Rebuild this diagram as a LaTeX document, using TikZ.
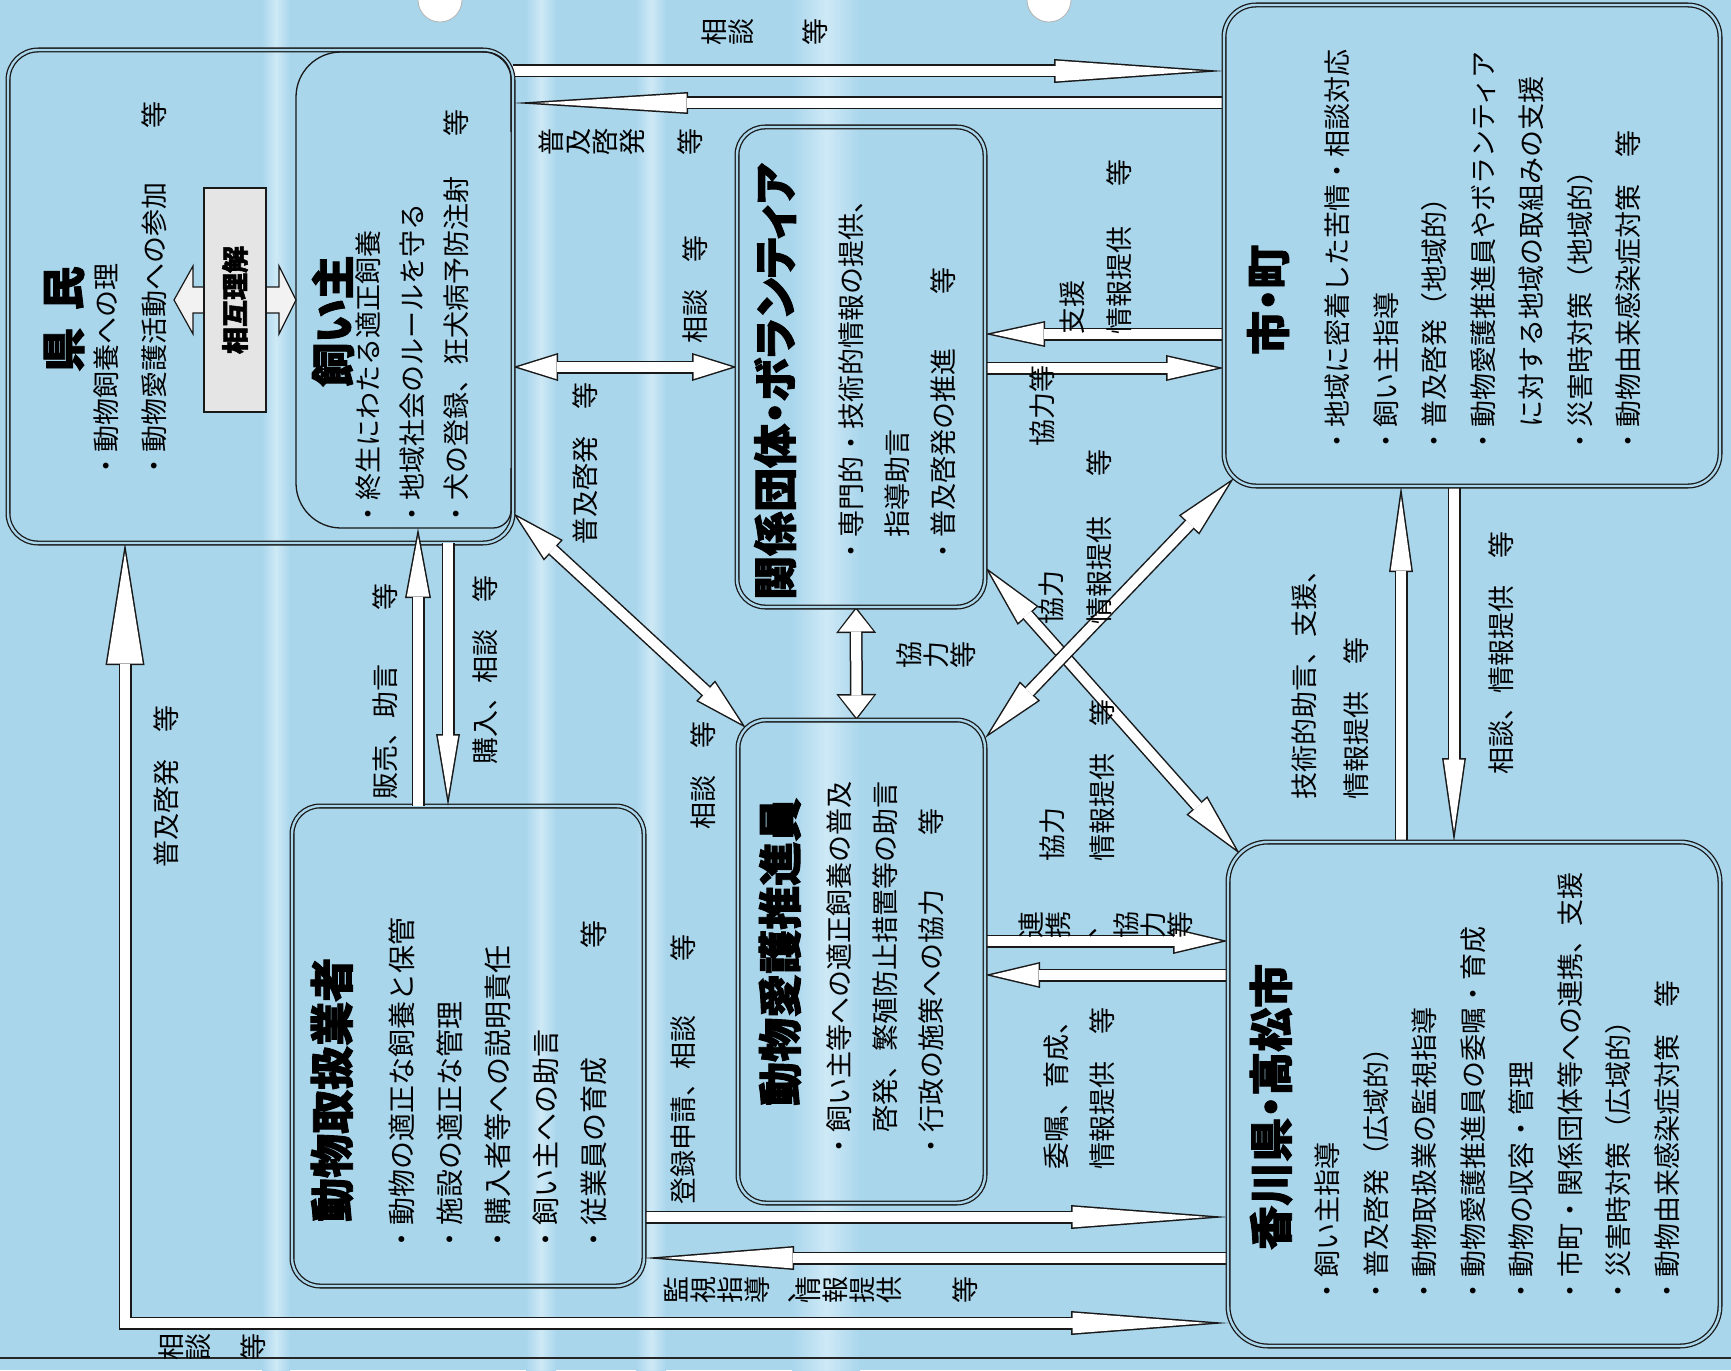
\documentclass[tikz,border=0pt]{standalone}
\usepackage{fontspec}
\setmainfont{Noto Sans CJK JP}
\newfontfamily\jp{Noto Sans CJK JP}
\newfontfamily\jpt{Noto Sans CJK JP}[RawFeature=+palt, BoldFeatures={FakeBold=2}]
\usetikzlibrary{arrows.meta}
\definecolor{bgc}{RGB}{170,214,236}
\definecolor{bgl}{RGB}{206,233,246}
\pgfdeclarelayer{bg}\pgfdeclarelayer{back}
\pgfsetlayers{bg,back,main}
% block arrow: #1 start tip length (0 = none), #2 start tip width, #3 end tip length, #4 end tip width, #5 path
\newcommand\blk[5]{%
  \def\aSb{}\def\aEb{}\def\aSw{}\def\aEw{}\def\shS{0}\def\shE{0}%
  \ifdim #1pt>0pt
    \pgfmathsetmacro\sA{1.5/sin(atan((#2/2)/#1))}%
    \pgfmathsetmacro\Lw{#1-1.5-\sA}%
    \pgfmathsetmacro\Ww{2*((#2/2)*(#1-1.5)/#1-1.5)}%
    \edef\aSb{{Triangle[length=#1pt,width=#2pt,line width=0pt]}}%
    \edef\aSw{{Triangle[length=\Lw pt,width=\Ww pt,line width=0pt]}}%
    \edef\shS{\sA}%
  \fi
  \ifdim #3pt>0pt
    \pgfmathsetmacro\sB{1.5/sin(atan((#4/2)/#3))}%
    \pgfmathsetmacro\Lv{#3-1.5-\sB}%
    \pgfmathsetmacro\Wv{2*((#4/2)*(#3-1.5)/#3-1.5)}%
    \edef\aEb{{Triangle[length=#3pt,width=#4pt,line width=0pt]}}%
    \edef\aEw{{Triangle[length=\Lv pt,width=\Wv pt,line width=0pt]}}%
    \edef\shE{\sB}%
  \fi
  \tikzset{blkB/.style/.expanded={arrows=\aSb-\aEb},
           blkW/.style/.expanded={arrows=\aSw-\aEw, shorten <=\shS pt, shorten >=\shE pt}}%
  \draw[line width=13pt, black!90, blkB] #5;
  \draw[line width=10pt, white, blkW] #5;
}
\begin{document}
\begin{tikzpicture}[x=1pt,y=-1pt,
  box/.style={draw=black!90, line width=1.3pt, double=bgc, double distance=2.4pt,
    rounded corners=#1, inner sep=0pt, outer sep=0pt},
  box/.default=28pt,
  band/.style={left color=bgc, right color=bgc, middle color=bgl},
  ttl/.style={rotate=90, anchor=west, inner sep=0pt, font=\jpt\bfseries\fontsize{44}{44}\selectfont},
  body/.style={rotate=90, anchor=north west, inner sep=0pt, align=left,
    font=\jp\fontsize{27}{#1}\selectfont},
  body/.default=48pt,
  col/.style={rotate=90, anchor=west, inner sep=0pt, font=\jp\fontsize{27}{27}\selectfont},
  rowl/.style={rotate=90, anchor=center, inner sep=0pt, align=center,
    font=\jp\fontsize{27}{27}\selectfont}]
\useasboundingbox (0,0) rectangle (1731,1370);
\begin{pgfonlayer}{bg}
  \fill[bgc] (0,0) rectangle (1731,1370);
  \shade[band] (262,0) rectangle (290,1370);
  \shade[band] (526,0) rectangle (556,1370);
  \shade[band] (636,0) rectangle (666,1370);
  \shade[band] (792,0) rectangle (860,1370);
  \fill[white] (440,0) circle[radius=22pt];
  \draw[gray!60, line width=0.8pt] (440,0) circle[radius=22pt];
  \fill[white] (1049,0) circle[radius=22pt];
  \draw[gray!60, line width=0.8pt] (1049,0) circle[radius=22pt];
  \draw[black!85, line width=1.3pt] (0,1358) -- (1731,1358);
\end{pgfonlayer}

% ---------- boxes ----------
\node[box=30pt, minimum width=505pt, minimum height=493pt] (ken) at (260.5,296.5) {};
\node[minimum width=215pt, minimum height=476pt, inner sep=0pt, outer sep=0pt] (kai) at (403.5,290) {};
\draw[black!90, line width=1.3pt, rounded corners=26pt]
  ([yshift=-80pt]kai.north east) -- (kai.north east) -- ([xshift=-100pt]kai.north east);
\draw[black!90, line width=1.3pt, rounded corners=45pt]
  ([xshift=-100pt]kai.north east) -- (kai.north west) -- (kai.south west) -- ([xshift=100pt]kai.south west);
\draw[black!90, line width=1.3pt, rounded corners=18pt]
  ([xshift=100pt]kai.south west) -- (kai.south east) -- ([yshift=60pt]kai.south east);
\node[box=28pt, minimum width=248pt, minimum height=480pt] (kankei) at (861,367) {};
\node[box=28pt, minimum width=247pt, minimum height=483pt] (suishin) at (861.5,961.5) {};
\node[box=28pt, minimum width=352pt, minimum height=480pt] (gyosha) at (468,1046) {};
\node[box=32pt, minimum width=496pt, minimum height=481pt] (shicho) at (1472,245.5) {};
\node[box=40pt, minimum width=492pt, minimum height=504pt] (kagawa) at (1474,1094) {};

% ---------- mutual understanding arrow ----------
\draw[black!90, line width=1.2pt, fill=gray!10]
  (174,300) -- (193,266) -- (193,287) -- (279,287) -- (279,266) -- (296,300)
  -- (279,334) -- (279,313) -- (193,313) -- (193,334) -- cycle;
\node[draw=black!90, line width=1.2pt, fill=gray!20, minimum width=62pt, minimum height=224pt,
  inner sep=0pt] (sogo) at (235,300) {};
\node[rotate=90, inner sep=0pt, font=\jpt\bfseries\fontsize{27}{27}\selectfont] (sogot) at (sogo.center) {相互理解};

% ---------- connectors ----------
\begin{pgfonlayer}{back}
\blk{0}{0}{170}{24}{(ken.east |- 0,71) -- (shicho.west |- 0,71)}
\blk{0}{0}{175}{22}{(shicho.west |- 0,103) -- (ken.east |- 0,103)}
\blk{45}{28}{45}{28}{(ken.east |- 0,367) -- (kankei.west |- 0,367)}
\blk{0}{0}{60}{26}{(shicho.west |- 0,334) -- (kankei.east |- 0,334)}
\blk{0}{0}{58}{26}{(kankei.east |- 0,368) -- (shicho.west |- 0,368)}
\blk{55}{28}{55}{28}{([yshift=30pt]ken.south east) -- ([xshift=8pt,yshift=-8pt]suishin.north west)}
\blk{26}{40}{26}{40}{([xshift=-5pt]kankei.south) -- ([xshift=-5pt]suishin.north)}
\blk{65}{28}{65}{28}{([yshift=40pt]kankei.south east) -- ([xshift=12pt,yshift=-12pt]kagawa.north west)}
\blk{65}{28}{65}{28}{([yshift=-18pt]suishin.north east) -- ([xshift=10pt,yshift=8pt]shicho.south west)}
\blk{0}{0}{86}{24}{(kagawa.north -| 1401,0) -- (shicho.south -| 1401,0)}
\blk{0}{0}{84}{24}{(shicho.south -| 1454,0) -- (kagawa.north -| 1454,0)}
\blk{0}{0}{55}{26}{(suishin.east |- 0,941) -- (kagawa.west |- 0,941)}
\blk{0}{0}{55}{26}{(kagawa.west |- 0,975) -- (suishin.east |- 0,975)}
\blk{0}{0}{157}{24}{(gyosha.east |- 0,1217) -- (kagawa.west |- 0,1217)}
\blk{0}{0}{150}{24}{(kagawa.west |- 0,1258) -- (gyosha.east |- 0,1258)}
\blk{157}{24}{122}{39}{(kagawa.west |- 0,1323) -- (125,1323) -- (ken.south -| 125,0)}
\end{pgfonlayer}
\blk{0}{0}{70}{26}{(gyosha.north -| 418,0) -- (kai.south -| 418,0)}
\blk{0}{0}{72}{24}{(ken.south -| 448,0) -- (gyosha.north -| 448,0)}

% ---------- box texts ----------
\node[ttl] (t-ken) at (64,372) {県\hspace{0.4em}民};
\node[body] (b-ken) at (94,480) {・動物飼養への理\\・動物愛護活動への参加　　等};
\node[ttl] (t-kai) at (333,387) {飼い主};
\node[body=44pt] (b-kai) at (356,528) {・終生にわたる適正飼養\\・地域社会のルールを守る\\・犬の登録、狂犬病予防注射\hspace{1.5em}等};
\node[ttl] (t-kankei) at (775,600) {関係団体・ボランティア};
\node[body=46pt] (b-kankei) at (838,565) {・専門的・技術的情報の提供、\\　指導助言\\・普及啓発の推進　　等};
\node[ttl] (t-suishin) at (780,1106) {動物愛護推進員};
\node[body=46pt] (b-suishin) at (826,1160) {・飼い主等への適正飼養の普及\\　啓発、繁殖防止措置等の助言\\・行政の施策への協力　　等};
\node[ttl] (t-gyosha) at (332,1222) {動物取扱業者};
\node[body=48pt, font=\jp\fontsize{28}{48}\selectfont] (b-gyosha) at (389,1254) {・動物の適正な飼養と保管\\・施設の適正な管理\\・購入者等への説明責任\\・飼い主への助言\\・従業員の育成\hspace{3.9em}等};
\node[ttl] (t-shicho) at (1268,355) {市・町};
\node[body=48.5pt] (b-shicho) at (1325,455) {・地域に密着した苦情・相談対応\\・飼い主指導\\・普及啓発（地域的）\\・動物愛護推進員やボランティア\\　に対する地域の取組みの支援\\・災害時対策（地域的）\\・動物由来感染症対策　等};
\node[ttl] (t-kagawa) at (1271,1250) {香川県・高松市};
\node[body=48.5pt] (b-kagawa) at (1315,1305) {・飼い主指導\\・普及啓発（広域的）\\・動物取扱業の監視指導\\・動物愛護推進員の委嘱・育成\\・動物の収容・管理\\・市町・関係団体等への連携、支援\\・災害時対策（広域的）\\・動物由来感染症対策　等};

% ---------- connector labels ----------
\node[rowl] (l1a) at (728,32) {相\\談};
\node[rowl] (l1b) at (815,32) {等};
\node[rowl] (l2a) at (592,142) {普\\及\\啓\\発};
\node[rowl] (l2b) at (690,142) {等};
\node[col] (l3) at (695,344) {相談　等};
\node[col] (l4) at (585,545) {普及啓発　等};
\node[col] (l5) at (703,830) {相談　等};
\node[col] (l6) at (385,800) {販売、助言　　等};
\node[col] (l7) at (485,765) {購入、相談　等};
\node[col] (l8) at (166,868) {普及啓発　等};
\node[rowl] (l9a) at (185,1347) {相\\談};
\node[rowl] (l9b) at (253,1347) {等};
\node[rowl] (l10) at (936,655) {協\\力\\等};
\node[body=47pt] (l11) at (1060,335) {支援\\情報提供\hspace{1.5em}等};
\node[col] (l12) at (1042,447) {協力等};
\node[body=48pt] (l13) at (1039,625) {協力\\情報提供\hspace{1.5em}等};
\node[body=50pt] (l14) at (1040,862) {協力\\情報提供　等};
\node[rowl] (l15a) at (1058,925) {連\\携\\、};
\node[rowl] (l15b) at (1153,925) {協\\力\\等};
\node[body=46pt] (l16) at (1044,1170) {委嘱、育成、\\情報提供　等};
\node[col] (l17) at (683,1205) {登録申請、相談　　等};
\node[rowl] (l18a) at (730,1290) {監\\視\\指\\導\\、};
\node[rowl] (l18b) at (849,1290) {情\\報\\提\\供};
\node[rowl] (l18c) at (965,1290) {等};
\node[body=52pt] (l19) at (1291,800) {技術的助言、支援、\\情報提供　等};
\node[col] (l20) at (1501,775) {相談、情報提供　等};
\end{tikzpicture}
\end{document}
